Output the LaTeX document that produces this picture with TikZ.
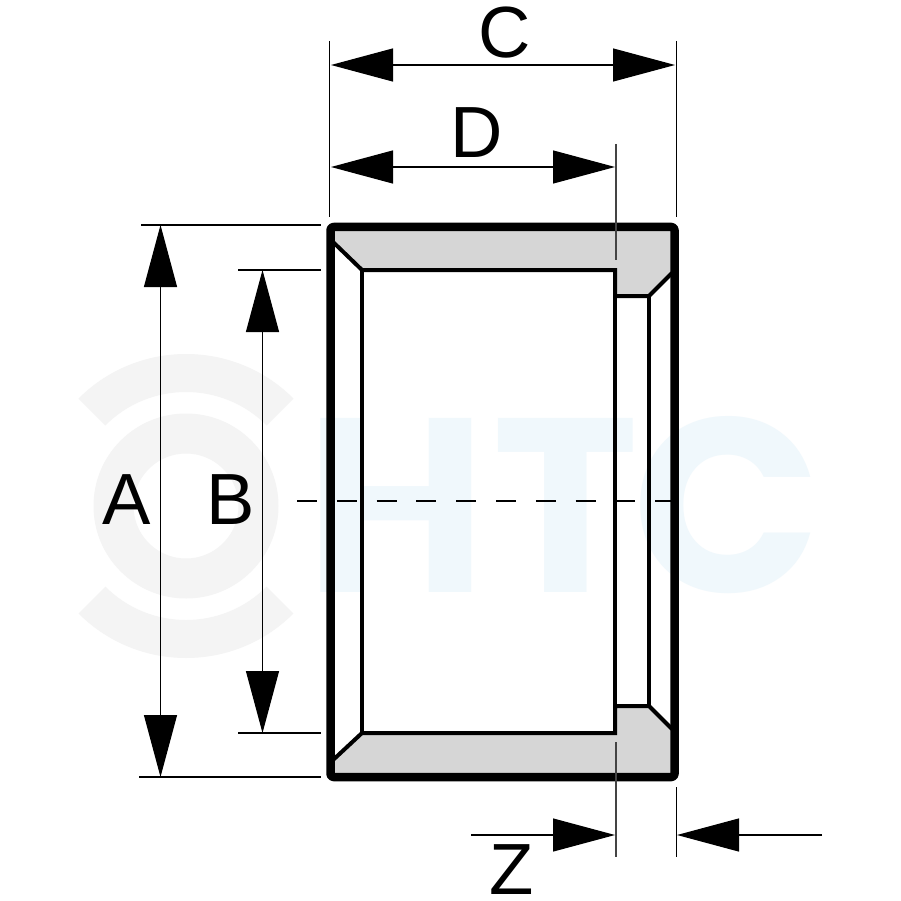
\documentclass[tikz,border=0pt]{standalone}
\usepackage{fontspec}
\setmainfont{Liberation Sans}
\newfontfamily\wmfont{Poppins}[UprightFont=* Bold]
\usetikzlibrary{arrows.meta}
\definecolor{wmgray}{HTML}{F4F4F4}
\definecolor{wmblue}{HTML}{F0F8FC}
\definecolor{bodygray}{HTML}{D6D6D6}
\definecolor{extdark}{HTML}{444444}
\tikzset{
  outline/.style={line width=8.5pt,line join=round,rounded corners=3pt},
  inner/.style={line width=4pt,line join=miter},
  thin line/.style={line width=1.2pt},
  ext dark/.style={line width=1.6pt,draw=extdark},
  dimhead/.style={Triangle[length=62pt,width=33pt]},
  dim both/.style={thin line,{Triangle[length=62pt,width=33pt]}-{Triangle[length=62pt,width=33pt]}},
  dim end/.style={thin line,-{Triangle[length=62pt,width=33pt]}},
  letter/.style={font=\fontsize{72.5pt}{72.5pt}\selectfont,inner sep=0pt,text=black},
  wm letter/.style={font=\wmfont\fontsize{248pt}{248pt}\selectfont,inner sep=0pt,text=wmblue},
}
\begin{document}
\begin{tikzpicture}[x=1pt,y=-1pt]
\useasboundingbox[fill=white] (0,0) rectangle (900,901);
% watermark
\begin{scope}[shift={(186,506)},y=1pt]
  \fill[wmgray,even odd rule] (0,0) circle[radius=92.5pt] (0,0) circle[radius=52.5pt];
  \fill[wmgray] (45:152pt) arc[start angle=45,end angle=135,radius=152pt] -- (135:114pt) arc[start angle=135,end angle=45,radius=114pt] -- cycle;
  \fill[wmgray] (-45:152pt) arc[start angle=-45,end angle=-135,radius=152pt] -- (-135:114pt) arc[start angle=-135,end angle=-45,radius=114pt] -- cycle;
\end{scope}
\node[wm letter] (wmH) at (396,505) {H};
\node[wm letter] (wmT) at (566,505) {T};
\node[wm letter] (wmC) at (727,505) {C};
% body
\fill[bodygray] (330,227) -- (674,227) -- (674,272) -- (649,296) -- (615,296) -- (615,270) -- (362,270) -- (330,240) -- cycle;
\fill[bodygray] (330,777) -- (674,777) -- (674,731) -- (649,706) -- (615,706) -- (615,733) -- (362,733) -- (330,764) -- cycle;
% inner contour
\draw[inner] (333,242) -- (362,270) -- (615,270) -- (615,296) -- (649,296) -- (672,273);
\draw[inner] (333,760) -- (362,733) -- (615,733) -- (615,706) -- (649,706) -- (672,729);
\draw[inner] (362,270) -- (362,733);
\draw[inner] (615,270) -- (615,733);
\draw[inner] (649,296) -- (649,706);
\draw[outline] (330.5,227) rectangle (674.5,777);
% centre line
\coordinate (cL) at (297,501);
\coordinate (cR) at (692,501);
\draw[line width=2pt,dash pattern=on 20pt off 19.8pt] (cL) -- (cR);
% extension lines
\coordinate (e1a) at (329.5,41); \coordinate (e1b) at (329.5,217);
\coordinate (e2a) at (676.5,41); \coordinate (e2b) at (676.5,217);
\coordinate (e3a) at (616,144);  \coordinate (e3b) at (616,260);
\coordinate (e4a) at (616,742);  \coordinate (e4b) at (616,857);
\coordinate (e5a) at (676.5,787);\coordinate (e5b) at (676.5,857);
\coordinate (h1a) at (141,225);  \coordinate (h1b) at (321,225);
\coordinate (h2a) at (238,270);  \coordinate (h2b) at (321,270);
\coordinate (h3a) at (238,733);  \coordinate (h3b) at (321,733);
\coordinate (h4a) at (139,777);  \coordinate (h4b) at (321,777);
\draw[thin line] (e1a) -- (e1b);
\draw[thin line] (e2a) -- (e2b);
\draw[ext dark] (e3a) -- (e3b);
\draw[ext dark] (e4a) -- (e4b);
\draw[thin line] (e5a) -- (e5b);
\draw[thin line] (h1a) -- (h1b);
\draw[thin line] (h2a) -- (h2b);
\draw[thin line] (h3a) -- (h3b);
\draw[thin line] (h4a) -- (h4b);
% dimension lines
\coordinate (cA) at (331,65);  \coordinate (cB) at (675,65);
\coordinate (dA) at (331,167); \coordinate (dB) at (615,167);
\coordinate (aA) at (160.5,225); \coordinate (aB) at (160.5,777);
\coordinate (bA) at (262.5,270); \coordinate (bB) at (262.5,733);
\coordinate (z1) at (471,835); \coordinate (z2) at (615,835);
\coordinate (z3) at (822,835); \coordinate (z4) at (677,835);
\draw[dim both] (cA) -- (cB);
\draw[dim both] (dA) -- (dB);
\draw[dim both] (aA) -- (aB);
\draw[dim both] (bA) -- (bB);
\draw[dim end] (z1) -- (z2);
\draw[dim end] (z3) -- (z4);
% letters
\node[letter] (lA) at (127,499.5) {A};
\node[letter] (lB) at (231,499.5) {B};
\node[letter] (lC) at (505,33) {C};
\node[letter] (lD) at (477,133) {D};
\node[letter] (lZ) at (512,870) {Z};
\end{tikzpicture}
\end{document}
